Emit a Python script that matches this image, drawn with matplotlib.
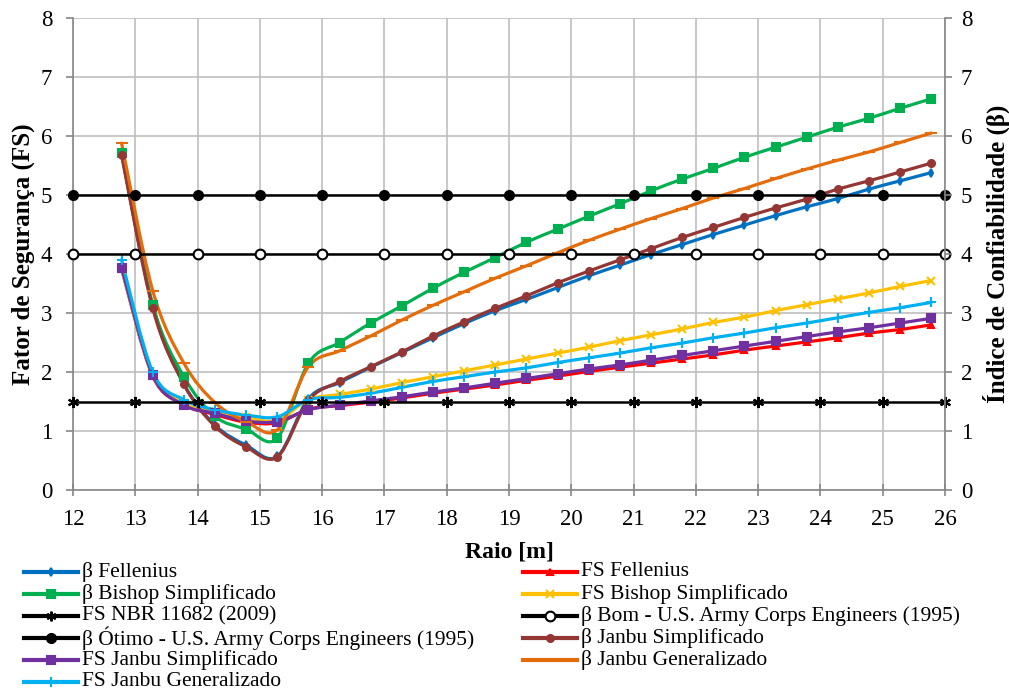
import numpy as np
import matplotlib
matplotlib.use('Agg')
import matplotlib.pyplot as plt
from matplotlib.path import Path
from matplotlib.patches import PathPatch
from matplotlib.lines import Line2D

plt.rcParams['font.family'] = ['Liberation Serif', 'DejaVu Serif']

# raio das superficies de ruptura (m)
raio = [12.78, 13.28, 13.78, 14.28, 14.78, 15.28, 15.78, 16.28, 16.78, 17.28,
        17.78, 18.28, 18.78, 19.28, 19.78, 20.28, 20.78, 21.28, 21.78, 22.28,
        22.78, 23.28, 23.78, 24.28, 24.78, 25.28, 25.78]

beta_fellenius = [5.70, 3.12, 1.80, 1.10, 0.76, 0.57, 1.55, 1.82, 2.08, 2.33,
                  2.58, 2.82, 3.04, 3.23, 3.43, 3.63, 3.81, 3.99, 4.16, 4.33,
                  4.49, 4.65, 4.80, 4.94, 5.10, 5.24, 5.38]
fs_fellenius = [3.75, 1.93, 1.45, 1.28, 1.15, 1.14, 1.37, 1.43, 1.49, 1.56,
                1.64, 1.71, 1.78, 1.86, 1.93, 2.01, 2.08, 2.15, 2.22, 2.29,
                2.37, 2.44, 2.51, 2.58, 2.66, 2.72, 2.80]
beta_bishop = [5.71, 3.14, 1.92, 1.25, 1.03, 0.88, 2.15, 2.50, 2.83, 3.12,
               3.42, 3.69, 3.94, 4.20, 4.42, 4.64, 4.85, 5.07, 5.27, 5.45,
               5.64, 5.81, 5.98, 6.15, 6.30, 6.47, 6.63]
fs_bishop = [3.75, 1.95, 1.47, 1.33, 1.23, 1.18, 1.53, 1.62, 1.71, 1.82,
             1.92, 2.02, 2.12, 2.22, 2.32, 2.42, 2.53, 2.63, 2.73, 2.84,
             2.93, 3.04, 3.14, 3.24, 3.34, 3.45, 3.55]
beta_janbu_simp = [5.68, 3.08, 1.79, 1.08, 0.73, 0.56, 1.52, 1.84, 2.09, 2.34,
                   2.61, 2.85, 3.08, 3.29, 3.51, 3.71, 3.90, 4.09, 4.28, 4.45,
                   4.62, 4.78, 4.93, 5.10, 5.24, 5.39, 5.54]
fs_janbu_simp = [3.77, 1.95, 1.44, 1.30, 1.17, 1.16, 1.36, 1.44, 1.51, 1.58,
                 1.66, 1.73, 1.81, 1.89, 1.97, 2.05, 2.12, 2.20, 2.28, 2.36,
                 2.44, 2.52, 2.60, 2.68, 2.75, 2.83, 2.91]
beta_janbu_gen = [5.88, 3.38, 2.15, 1.48, 1.16, 1.02, 2.09, 2.36, 2.61, 2.88,
                  3.13, 3.36, 3.59, 3.80, 4.02, 4.23, 4.42, 4.60, 4.77, 4.95,
                  5.11, 5.28, 5.44, 5.59, 5.73, 5.89, 6.05]
fs_janbu_gen = [3.90, 2.00, 1.53, 1.36, 1.27, 1.24, 1.53, 1.57, 1.64, 1.74,
                1.84, 1.92, 2.00, 2.07, 2.16, 2.24, 2.32, 2.41, 2.49, 2.58,
                2.66, 2.75, 2.83, 2.92, 3.01, 3.09, 3.18]

# linhas de referencia
x_ref = list(range(12, 27))
fs_nbr = 1.5
beta_bom = 4.0
beta_otimo = 5.0

W, H = 1009, 693


def smooth_path(x, y):
    # curva suavizada (estilo Excel) passando pelos pontos
    p = np.column_stack([x, y])
    verts = [p[0]]
    codes = [Path.MOVETO]
    n = len(p)
    for i in range(n - 1):
        p0 = p[i - 1] if i > 0 else p[i]
        p3 = p[i + 2] if i + 2 < n else p[i + 1]
        c1 = p[i] + (p[i + 1] - p0) / 6.0
        c2 = p[i + 1] - (p3 - p[i]) / 6.0
        verts += [c1, c2, p[i + 1]]
        codes += [Path.CURVE4] * 3
    return Path(verts, codes)


fig = plt.figure(figsize=(W / 100, H / 100), dpi=100)
ax = fig.add_axes([73 / W, 1 - 490 / H, 872 / W, 472 / H])

series = [
    ('β Fellenius', beta_fellenius, '#0070C0', 'd', 4),
    ('FS Fellenius', fs_fellenius, '#FF0000', '^', 5),
    ('β Bishop Simplificado', beta_bishop, '#00B050', 's', 6),
    ('FS Bishop Simplificado', fs_bishop, '#FFC000', 'x', 6),
    ('β Janbu Simplificado', beta_janbu_simp, '#943634', 'o', 5),
    ('FS Janbu Simplificado', fs_janbu_simp, '#7030A0', 's', 6),
    ('β Janbu Generalizado', beta_janbu_gen, '#E46C0A', '_', 8),
    ('FS Janbu Generalizado', fs_janbu_gen, '#00B0F0', '+', 7),
]

estilo = {}
for name, vals, cor, mk, ms in series:
    patch = PathPatch(smooth_path(raio, vals), fill=False, edgecolor=cor,
                      lw=2.3, zorder=3, capstyle='round', joinstyle='round')
    ax.add_patch(patch)
    ax.plot(raio, vals, linestyle='none', marker=mk, color=cor, ms=ms,
            mew=1.5, zorder=4)
    estilo[name] = dict(color=cor, marker=mk, ms=ms, mew=1.5)

ref_style = dict(color='black', lw=1.8, zorder=5, clip_on=False)
ax.plot(x_ref, [fs_nbr] * len(x_ref), marker=(6, 2, 0), ms=8, mew=1.5, **ref_style)
ax.plot(x_ref, [beta_bom] * len(x_ref), marker='o', ms=7, mfc='white',
        mec='black', mew=1.5, **ref_style)
ax.plot(x_ref, [beta_otimo] * len(x_ref), marker='o', ms=7, **ref_style)
estilo['FS NBR 11682 (2009)'] = dict(color='black', marker=(6, 2, 0), ms=7, mew=1.5)
estilo['β Bom - U.S. Army Corps Engineers (1995)'] = dict(
    color='black', marker='o', ms=7, mfc='white', mec='black', mew=1.5)
estilo['β Ótimo - U.S. Army Corps Engineers (1995)'] = dict(
    color='black', marker='o', ms=7)

ax.set_xlim(12, 26)
ax.set_ylim(0, 8)
ax.set_xticks(range(12, 27))
ax.set_yticks(range(0, 9))
ax.grid(True, color='#BFBFBF', lw=1.2)
ax.set_axisbelow(True)
for s in ['top', 'right']:
    ax.spines[s].set_visible(False)
for s in ['left', 'bottom']:
    ax.spines[s].set_color('#868686')
    ax.spines[s].set_linewidth(1.2)
ax.tick_params(axis='both', labelsize=16.5, color='#868686', length=5, width=1.2)
ax.tick_params(axis='y', pad=10)
ax.tick_params(axis='x', direction='inout', length=8, pad=10)
ax.set_xlabel('Raio [m]', fontsize=17, fontweight='bold', labelpad=8)
ax.set_ylabel('Fator de Segurança (FS)', fontsize=18, fontweight='bold', labelpad=4)

ax2 = ax.twinx()
ax2.set_ylim(0, 8)
ax2.set_yticks(range(0, 9))
for s in ['top', 'left', 'bottom']:
    ax2.spines[s].set_visible(False)
ax2.spines['right'].set_color('#868686')
ax2.spines['right'].set_linewidth(1.2)
ax2.tick_params(axis='y', labelsize=16.5, color='#868686', length=5, width=1.2,
                pad=6.5)
ax2.set_ylabel('Índice de Confiabilidade (β)', fontsize=18, fontweight='bold',
               labelpad=7)

# legenda montada a mao para alinhar as linhas das duas colunas
col1 = ['β Fellenius', 'β Bishop Simplificado', 'FS NBR 11682 (2009)',
        'β Ótimo - U.S. Army Corps Engineers (1995)', 'FS Janbu Simplificado',
        'FS Janbu Generalizado']
col2 = ['FS Fellenius', 'FS Bishop Simplificado',
        'β Bom - U.S. Army Corps Engineers (1995)', 'β Janbu Simplificado',
        'β Janbu Generalizado']
linhas_y = [572, 594, 616, 638, 660, 682]
for nomes, x0 in [(col1, 24), (col2, 523)]:
    for nome, py in zip(nomes, linhas_y):
        st = estilo[nome]
        yf = 1 - py / H
        xs = [x0 / W, (x0 + 27) / W, (x0 + 54) / W]
        fig.add_artist(Line2D(xs, [yf] * 3, lw=3, markevery=[1],
                              transform=fig.transFigure, **st))
        fig.text((x0 + 58) / W, yf, nome, fontsize=15.5, va='center', ha='left')

fig.savefig('out.png', dpi=100)
